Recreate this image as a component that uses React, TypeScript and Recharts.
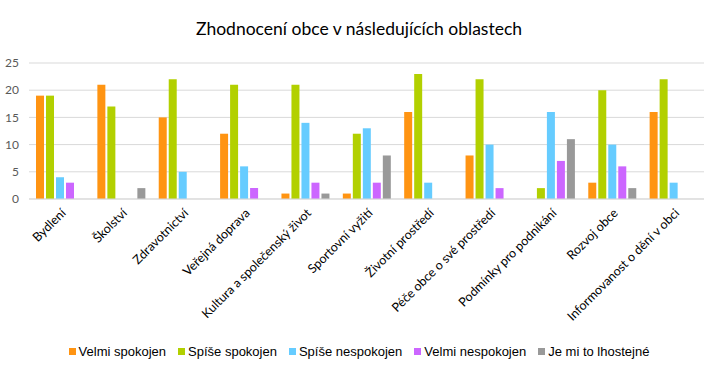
import { BarChart, Bar, XAxis, YAxis, CartesianGrid } from 'recharts';

const categories = [
  'Bydlení',
  'Školství',
  'Zdravotnictví',
  'Veřejná doprava',
  'Kultura a společenský život',
  'Sportovní vyžití',
  'Životní prostředí',
  'Péče obce o své prostředí',
  'Podmínky pro podnikání',
  'Rozvoj obce',
  'Informovanost o dění v obci',
];

const velmiSpokojen = [19, 21, 15, 12, 1, 1, 16, 8, 0, 3, 16];
const spiseSpokojen = [19, 17, 22, 21, 21, 12, 23, 22, 2, 20, 22];
const spiseNespokojen = [4, 0, 5, 6, 14, 13, 3, 10, 16, 10, 3];
const velmiNespokojen = [3, 0, 0, 2, 3, 3, 0, 2, 7, 6, 0];
const lhostejne = [0, 2, 0, 0, 1, 8, 0, 0, 11, 2, 0];

const yTicks = [0, 5, 10, 15, 20, 25];

const series = [
  { key: 'v1', name: 'Velmi spokojen', color: '#FF9412', values: velmiSpokojen },
  { key: 'v2', name: 'Spíše spokojen', color: '#B2D000', values: spiseSpokojen },
  { key: 'v3', name: 'Spíše nespokojen', color: '#66CCFF', values: spiseNespokojen },
  { key: 'v4', name: 'Velmi nespokojen', color: '#CC66FF', values: velmiNespokojen },
  { key: 'v5', name: 'Je mi to lhostejné', color: '#999999', values: lhostejne },
];

const data = categories.map((name, i) => {
  const row: Record<string, string | number> = { name };
  series.forEach((s) => {
    row[s.key] = s.values[i];
  });
  return row;
});

const CategoryTick = (props: any) => {
  const { x, y, payload } = props;
  return (
    <g transform={`translate(${x + 4},${y + 4})`}>
      <text
        transform="rotate(-45)"
        textAnchor="end"
        dy={4}
        fontSize={12.5}
        fontFamily="Lato, 'Open Sans', sans-serif"
        fill="#000"
      >
        {payload.value}
      </text>
    </g>
  );
};

export default function App() {
  return (
    <div style={{ position: 'absolute', left: 0, top: 0, width: 718, height: 371, background: '#fff' }}>
      <div
        style={{
          position: 'absolute',
          left: 0,
          top: 18,
          width: 718,
          textAlign: 'center',
          fontFamily: "Lato, 'Open Sans', sans-serif",
          fontSize: 17.5,
          color: '#000',
        }}
      >
        Zhodnocení obce v následujících oblastech
      </div>
      <BarChart
        width={718}
        height={371}
        data={data}
        margin={{ top: 63, right: 14, left: 0, bottom: 0 }}
        barCategoryGap={7}
        barGap={2}
      >
        <CartesianGrid stroke="#D9D9D9" vertical={false} />
        <YAxis
          domain={[0, 25]}
          ticks={yTicks}
          width={29}
          axisLine={false}
          tickLine={false}
          tick={{ fill: '#595959', fontSize: 12, fontFamily: "Lato, 'Open Sans', sans-serif" }}
          tickMargin={4}
        />
        <XAxis
          dataKey="name"
          interval={0}
          height={172}
          axisLine={{ stroke: '#D9D9D9' }}
          tickLine={false}
          tick={<CategoryTick />}
        />
        {series.map((s) => (
          <Bar key={s.key} dataKey={s.key} name={s.name} fill={s.color} isAnimationActive={false} />
        ))}
      </BarChart>
      {/* legend */}
      <div
        style={{
          position: 'absolute',
          left: 0,
          top: 344,
          width: 718,
          display: 'flex',
          justifyContent: 'center',
          gap: 12,
          fontFamily: "'Liberation Sans', Arial, sans-serif",
          fontSize: 13,
          color: '#000',
        }}
      >
        {series.map((s) => (
          <span key={s.key} style={{ display: 'flex', alignItems: 'center', gap: 3 }}>
            <span style={{ width: 7, height: 7, background: s.color, display: 'inline-block' }} />
            {s.name}
          </span>
        ))}
      </div>
    </div>
  );
}
